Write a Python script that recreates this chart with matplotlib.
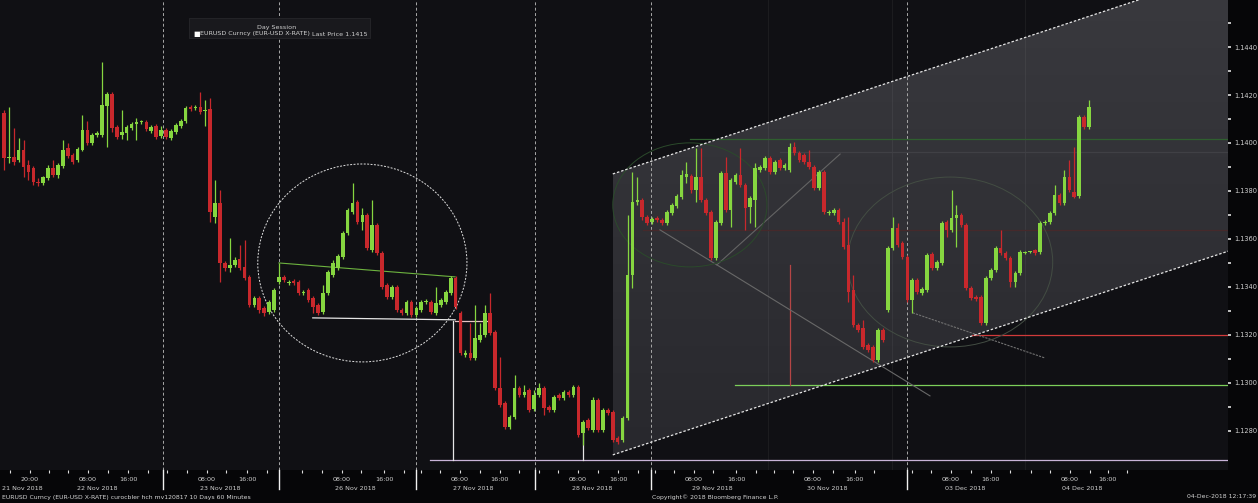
import numpy as np
import matplotlib
matplotlib.use("Agg")
import matplotlib.pyplot as plt
from matplotlib.patches import Ellipse, Polygon, Rectangle
from matplotlib.lines import Line2D
from matplotlib.transforms import blended_transform_factory

# EURUSD 60 minute bars, one value per bar (bar 0 = 21 Nov afternoon)
opens = [
    1.14125, 1.13938, 1.13942, 1.13929, 1.13971, 1.13908, 1.13896, 1.13838, 1.13833, 1.13854,
    1.13896, 1.13867, 1.13904, 1.13979, 1.13950, 1.13929, 1.13971, 1.14054, 1.14000, 1.14033,
    1.14033, 1.14154, 1.14204, 1.14067, 1.14033, 1.14042, 1.14063, 1.14079, 1.14088, 1.14088,
    1.14050, 1.14071, 1.14029, 1.14054, 1.14021, 1.14046, 1.14071, 1.14092, 1.14150, 1.14146,
    1.14150, 1.14133, 1.14142, 1.13692, 1.13750, 1.13500, 1.13479, 1.13492, 1.13517, 1.13483,
    1.13442, 1.13325, 1.13354, 1.13313, 1.13296, 1.13304, 1.13421, 1.13442, 1.13417, 1.13425,
    1.13421, 1.13375, 1.13388, 1.13354, 1.13325, 1.13296, 1.13375, 1.13450, 1.13479, 1.13525,
    1.13625, 1.13713, 1.13754, 1.13671, 1.13700, 1.13554, 1.13658, 1.13542, 1.13408, 1.13358,
    1.13400, 1.13304, 1.13292, 1.13338, 1.13283, 1.13304, 1.13338, 1.13338, 1.13292, 1.13325,
    1.13338, 1.13375, 1.13438, 1.13292, 1.13117, 1.13125, 1.13104, 1.13179, 1.13200, 1.13292,
    1.13213, 1.12979, 1.12917, 1.12817, 1.12858, 1.12979, 1.12950, 1.12971, 1.12892, 1.12950,
    1.12979, 1.12900, 1.12888, 1.12950, 1.12938, 1.12963, 1.12950, 1.12983, 1.12792, 1.12846,
    1.12804, 1.12929, 1.12804, 1.12888, 1.12879, 1.12771, 1.12763, 1.12854, 1.13450, 1.13754,
    1.13763, 1.13692, 1.13671, 1.13688, 1.13679, 1.13667, 1.13708, 1.13738, 1.13775, 1.13858,
    1.13863, 1.13804, 1.13858, 1.13763, 1.13713, 1.13521, 1.13667, 1.13875, 1.13721, 1.13838,
    1.13867, 1.13825, 1.13733, 1.13763, 1.13888, 1.13896, 1.13938, 1.13879, 1.13929, 1.13896,
    1.13888, 1.13983, 1.13958, 1.13950, 1.13921, 1.13900, 1.13813, 1.13879, 1.13708, 1.13708,
    1.13721, 1.13671, 1.13575, 1.13388, 1.13242, 1.13229, 1.13158, 1.13150, 1.13096, 1.13221,
    1.13304, 1.13563, 1.13646, 1.13583, 1.13525, 1.13346, 1.13429, 1.13375, 1.13388, 1.13538,
    1.13479, 1.13500, 1.13671, 1.13638, 1.13688, 1.13700, 1.13658, 1.13396, 1.13358, 1.13358,
    1.13250, 1.13438, 1.13471, 1.13563, 1.13542, 1.13521, 1.13421, 1.13458, 1.13542, 1.13546,
    1.13554, 1.13546, 1.13667, 1.13671, 1.13708, 1.13783, 1.13750, 1.13858, 1.13796, 1.13779,
    1.14108, 1.14067,
]
highs = [
    1.14138, 1.14150, 1.14063, 1.14021, 1.14013, 1.13929, 1.13904, 1.13854, 1.13863, 1.13908,
    1.13929, 1.13917, 1.14013, 1.14000, 1.13958, 1.13983, 1.14117, 1.14092, 1.14042, 1.14050,
    1.14338, 1.14213, 1.14213, 1.14075, 1.14138, 1.14075, 1.14088, 1.14104, 1.14096, 1.14096,
    1.14075, 1.14079, 1.14071, 1.14063, 1.14058, 1.14083, 1.14100, 1.14154, 1.14158, 1.14158,
    1.14213, 1.14179, 1.14188, 1.13846, 1.13804, 1.13508, 1.13604, 1.13525, 1.13575, 1.13596,
    1.13450, 1.13363, 1.13363, 1.13321, 1.13346, 1.13396, 1.13500, 1.13450, 1.13429, 1.13433,
    1.13429, 1.13388, 1.13396, 1.13363, 1.13333, 1.13408, 1.13471, 1.13513, 1.13538, 1.13633,
    1.13729, 1.13833, 1.13763, 1.13729, 1.13708, 1.13763, 1.13667, 1.13550, 1.13417, 1.13408,
    1.13408, 1.13313, 1.13346, 1.13346, 1.13321, 1.13346, 1.13350, 1.13346, 1.13400, 1.13354,
    1.13388, 1.13446, 1.13446, 1.13300, 1.13138, 1.13250, 1.13325, 1.13250, 1.13325, 1.13375,
    1.13221, 1.13108, 1.12925, 1.12867, 1.13033, 1.12988, 1.12992, 1.12979, 1.12971, 1.13000,
    1.12988, 1.12908, 1.12950, 1.12958, 1.12971, 1.12971, 1.12992, 1.12992, 1.12846, 1.12854,
    1.12942, 1.12938, 1.12896, 1.12896, 1.12888, 1.12779, 1.12863, 1.13700, 1.13879, 1.13858,
    1.13771, 1.13700, 1.13692, 1.13696, 1.13688, 1.13721, 1.13750, 1.13788, 1.13888, 1.13921,
    1.13871, 1.13979, 1.13979, 1.13771, 1.13721, 1.13679, 1.13883, 1.13942, 1.13854, 1.13875,
    1.13979, 1.13833, 1.13779, 1.13917, 1.13908, 1.13946, 1.13946, 1.13929, 1.13938, 1.13917,
    1.14000, 1.14004, 1.13967, 1.13958, 1.13971, 1.13908, 1.13888, 1.13888, 1.13721, 1.13729,
    1.13729, 1.13688, 1.13692, 1.13450, 1.13250, 1.13263, 1.13167, 1.13158, 1.13229, 1.13229,
    1.13571, 1.13692, 1.13667, 1.13592, 1.13533, 1.13438, 1.13438, 1.13400, 1.13542, 1.13546,
    1.13513, 1.13675, 1.13679, 1.13804, 1.13742, 1.13708, 1.13667, 1.13404, 1.13367, 1.13367,
    1.13446, 1.13479, 1.13571, 1.13638, 1.13550, 1.13529, 1.13467, 1.13554, 1.13550, 1.13550,
    1.13558, 1.13675, 1.13679, 1.13717, 1.13825, 1.13792, 1.13888, 1.13929, 1.13983, 1.14117,
    1.14117, 1.14179,
]
lows = [
    1.13888, 1.13917, 1.13908, 1.13921, 1.13858, 1.13846, 1.13825, 1.13821, 1.13825, 1.13846,
    1.13858, 1.13854, 1.13896, 1.13938, 1.13913, 1.13921, 1.13967, 1.13992, 1.13992, 1.14025,
    1.14025, 1.13983, 1.14046, 1.14017, 1.14017, 1.14013, 1.14054, 1.14013, 1.14079, 1.14050,
    1.14042, 1.14017, 1.14021, 1.14017, 1.14013, 1.14038, 1.14063, 1.14083, 1.14133, 1.14138,
    1.14121, 1.14071, 1.13671, 1.13667, 1.13421, 1.13467, 1.13463, 1.13483, 1.13471, 1.13429,
    1.13317, 1.13317, 1.13292, 1.13279, 1.13288, 1.13296, 1.13413, 1.13421, 1.13408, 1.13408,
    1.13367, 1.13367, 1.13338, 1.13292, 1.13283, 1.13288, 1.13367, 1.13442, 1.13471, 1.13517,
    1.13617, 1.13704, 1.13663, 1.13638, 1.13554, 1.13546, 1.13533, 1.13392, 1.13350, 1.13350,
    1.13296, 1.13283, 1.13283, 1.13275, 1.13275, 1.13296, 1.13329, 1.13288, 1.13283, 1.13317,
    1.13329, 1.13367, 1.13308, 1.13117, 1.13108, 1.13096, 1.13096, 1.13171, 1.13192, 1.13200,
    1.12971, 1.12900, 1.12808, 1.12808, 1.12850, 1.12942, 1.12942, 1.12879, 1.12883, 1.12942,
    1.12867, 1.12879, 1.12879, 1.12929, 1.12929, 1.12942, 1.12942, 1.12775, 1.12742, 1.12804,
    1.12796, 1.12796, 1.12796, 1.12867, 1.12754, 1.12746, 1.12754, 1.12846, 1.13396, 1.13742,
    1.13679, 1.13658, 1.13663, 1.13671, 1.13658, 1.13658, 1.13700, 1.13729, 1.13767, 1.13833,
    1.13792, 1.13754, 1.13754, 1.13700, 1.13513, 1.13513, 1.13658, 1.13713, 1.13650, 1.13829,
    1.13817, 1.13638, 1.13667, 1.13650, 1.13879, 1.13888, 1.13871, 1.13871, 1.13888, 1.13888,
    1.13879, 1.13950, 1.13921, 1.13913, 1.13892, 1.13804, 1.13804, 1.13704, 1.13700, 1.13700,
    1.13663, 1.13558, 1.13338, 1.13233, 1.13213, 1.13142, 1.13129, 1.13088, 1.13088, 1.13171,
    1.13296, 1.13554, 1.13567, 1.13517, 1.13338, 1.13292, 1.13371, 1.13367, 1.13379, 1.13471,
    1.13471, 1.13492, 1.13608, 1.13629, 1.13567, 1.13650, 1.13388, 1.13346, 1.13342, 1.13242,
    1.13242, 1.13429, 1.13463, 1.13533, 1.13513, 1.13400, 1.13400, 1.13450, 1.13538, 1.13542,
    1.13533, 1.13538, 1.13658, 1.13663, 1.13700, 1.13742, 1.13742, 1.13796, 1.13771, 1.13771,
    1.14058, 1.14058,
]
closes = [
    1.13938, 1.13942, 1.13921, 1.13971, 1.13900, 1.13879, 1.13838, 1.13833, 1.13858, 1.13896,
    1.13867, 1.13908, 1.13971, 1.13946, 1.13921, 1.13975, 1.14054, 1.14000, 1.14033, 1.14042,
    1.14158, 1.14204, 1.14063, 1.14025, 1.14046, 1.14067, 1.14079, 1.14088, 1.14092, 1.14058,
    1.14067, 1.14025, 1.14054, 1.14025, 1.14050, 1.14075, 1.14092, 1.14146, 1.14142, 1.14150,
    1.14129, 1.14138, 1.13713, 1.13750, 1.13500, 1.13479, 1.13492, 1.13513, 1.13479, 1.13438,
    1.13325, 1.13354, 1.13304, 1.13292, 1.13338, 1.13388, 1.13442, 1.13429, 1.13421, 1.13417,
    1.13375, 1.13379, 1.13346, 1.13317, 1.13292, 1.13375, 1.13463, 1.13500, 1.13529, 1.13625,
    1.13721, 1.13750, 1.13671, 1.13700, 1.13563, 1.13658, 1.13542, 1.13400, 1.13358, 1.13400,
    1.13304, 1.13292, 1.13338, 1.13283, 1.13313, 1.13338, 1.13342, 1.13296, 1.13333, 1.13346,
    1.13379, 1.13438, 1.13317, 1.13125, 1.13125, 1.13104, 1.13188, 1.13200, 1.13292, 1.13208,
    1.12979, 1.12908, 1.12817, 1.12858, 1.12979, 1.12950, 1.12963, 1.12888, 1.12950, 1.12979,
    1.12896, 1.12888, 1.12942, 1.12938, 1.12963, 1.12950, 1.12983, 1.12783, 1.12838, 1.12813,
    1.12929, 1.12804, 1.12888, 1.12875, 1.12763, 1.12754, 1.12854, 1.13450, 1.13754, 1.13763,
    1.13692, 1.13667, 1.13683, 1.13679, 1.13667, 1.13713, 1.13742, 1.13779, 1.13867, 1.13871,
    1.13804, 1.13858, 1.13763, 1.13708, 1.13521, 1.13671, 1.13875, 1.13721, 1.13846, 1.13867,
    1.13825, 1.13729, 1.13771, 1.13896, 1.13900, 1.13938, 1.13879, 1.13921, 1.13896, 1.13908,
    1.13983, 1.13958, 1.13929, 1.13921, 1.13900, 1.13813, 1.13879, 1.13713, 1.13713, 1.13721,
    1.13671, 1.13567, 1.13379, 1.13242, 1.13221, 1.13150, 1.13138, 1.13096, 1.13221, 1.13179,
    1.13563, 1.13646, 1.13575, 1.13525, 1.13346, 1.13429, 1.13379, 1.13392, 1.13533, 1.13479,
    1.13504, 1.13667, 1.13638, 1.13688, 1.13700, 1.13658, 1.13396, 1.13354, 1.13350, 1.13250,
    1.13438, 1.13471, 1.13563, 1.13542, 1.13521, 1.13421, 1.13458, 1.13546, 1.13546, 1.13546,
    1.13542, 1.13667, 1.13671, 1.13708, 1.13783, 1.13750, 1.13858, 1.13804, 1.13775, 1.14108,
    1.14067, 1.14150,
]

# time axis (bar positions)
hour_pos = [5.3, 17.1, 25.3, 41.3, 49.5, 68.8, 77.4, 92.9, 101.0, 116.9, 125.1,
            140.5, 149.1, 164.8, 173.3, 192.9, 201.0, 217.1, 224.8]
hour_lab = ["20:00"] + ["08:00", "16:00"] * 9
date_pos = [3.7, 19.1, 44.0, 71.5, 95.5, 119.8, 144.2, 167.6, 195.7, 219.6]
date_lab = ["21 Nov 2018", "22 Nov 2018", "23 Nov 2018", "26 Nov 2018", "27 Nov 2018",
            "28 Nov 2018", "29 Nov 2018", "30 Nov 2018", "03 Dec 2018", "04 Dec 2018"]
session_breaks = [32.4, 56.0, 83.9, 108.1, 131.8, 183.9]
faint_breaks = [155.6, 180.9, 208.0]

# drawn studies
chan_x = [124.0, 252.0]
chan_upper = [1.13871, 1.14738]
chan_lower = [1.12700, 1.13567]
circle_hs = (73.0, 1.13500, 42.6, 0.00825)
ell_left = (139.7, 1.13742, 31.4, 0.00517)
ell_right = (192.7, 1.13504, 41.8, 0.00708)
neck_x, neck_y = [56.0, 91.9], [1.13500, 1.13442]
supp_x, supp_y = [62.9, 91.9], [1.13271, 1.13263]
supp2_x, supp2_y = [91.9, 99.0], [1.13258, 1.13258]
drop1_x, drop1_y = [91.4, 91.4], [1.13258, 1.12679]
drop2_x, drop2_y = [117.9, 117.9], [1.12792, 1.12679]
hlines = [  # level, start bar, colour
    (1.12679, 86.8, "#c9b3d9"),
    (1.12992, 148.9, "#7ccf5a"),
    (1.13200, 197.1, "#d03a3a"),
    (1.14017, 139.7, "#2f5f2f"),
    (1.13638, 130.2, "#46292b"),
    (1.13963, 158.0, "#404045"),
]
red_vx, red_vy = [160.1, 160.1], [1.13492, 1.12992]
diag1_x, diag1_y = [133.6, 188.6], [1.13638, 1.12946]
diag2_x, diag2_y = [145.2, 170.3], [1.13492, 1.13954]
diag3_x, diag3_y = [185.1, 212.0], [1.13292, 1.13104]

W, H = 1258, 503
fig = plt.figure(figsize=(W / 100, H / 100), dpi=100, facecolor="#060608")
ax = fig.add_axes([0, 1 - 470 / H, 1228 / W, 470 / H])
ax.set_facecolor("#101014")
ax.set_xlim(-0.8, 249.3)
ax.set_ylim(1.12637, 1.14596)
for s in ax.spines.values():
    s.set_visible(False)

# channel with soft gradient
poly = Polygon([[chan_x[0], chan_lower[0]], [chan_x[0], chan_upper[0]],
                [chan_x[1], chan_upper[1]], [chan_x[1], chan_lower[1]]],
               closed=True, facecolor="none", edgecolor="none")
ax.add_patch(poly)
grad = np.linspace(0, 1, 256).reshape(-1, 1)
cmap = matplotlib.colors.LinearSegmentedColormap.from_list("g", ["#28282d", "#3a3a3f"])
im = ax.imshow(grad, extent=[chan_x[0], chan_x[1], chan_lower[0], chan_upper[1]],
               origin="lower", aspect="auto", cmap=cmap, zorder=1)
im.set_clip_path(poly)
ax.plot(chan_x, chan_upper, color="#e6e6e6", lw=0.9, ls=(0, (2, 1.5)), zorder=3)
ax.plot(chan_x, chan_lower, color="#e6e6e6", lw=0.9, ls=(0, (2, 1.5)), zorder=3)

for b in session_breaks:
    ax.axvline(b, color="#a8a8a8", lw=0.7, ls=(0, (3, 2.5)), zorder=2)
for b in faint_breaks:
    ax.axvline(b, color="#ffffff", alpha=0.05, lw=0.8, zorder=1.5)

# horizontal studies
for lvl, x0, col in hlines:
    ax.plot([x0, chan_x[1]], [lvl, lvl], color=col, lw=0.9, zorder=2.5)
ax.plot(red_vx, red_vy, color="#b54545", lw=0.9, zorder=2.5)
ax.plot(diag1_x, diag1_y, color="#686868", lw=0.8, zorder=2.5)
ax.plot(diag2_x, diag2_y, color="#646464", lw=0.8, zorder=2.5)
ax.plot(diag3_x, diag3_y, color="#727272", lw=0.8, ls=(0, (2, 1)), zorder=2.5)
ax.plot(neck_x, neck_y, color="#6db33f", lw=0.8, zorder=2.5)
ax.plot(supp_x, supp_y, color="#e6e6e6", lw=0.9, zorder=2.5)
ax.plot(supp2_x, supp2_y, color="#e8c4c4", lw=0.9, zorder=2.5)
ax.plot(drop1_x, drop1_y, color="#e6e6e6", lw=0.9, zorder=2.5)
ax.plot(drop2_x, drop2_y, color="#e6e6e6", lw=0.9, zorder=2.5)

for (cx, cy, w, h), col, ls in [(circle_hs, "#e0e0e0", (0, (2, 1.5))),
                                (ell_left, "#2b4a2b", "-"),
                                (ell_right, "#434d43", "-")]:
    ax.add_patch(Ellipse((cx, cy), w, h, fill=False, edgecolor=col, lw=0.7, ls=ls, zorder=2.6))

# candles
o = np.array(opens); hi = np.array(highs); lo = np.array(lows); c = np.array(closes)
idx = np.arange(len(o))
up = c >= o
cols = np.where(up, "#86d640", "#c8282c")
ax.vlines(idx, lo, hi, colors=cols, lw=0.9, zorder=4)
body = np.maximum(np.abs(c - o), 0.00005)
ax.bar(idx, body, bottom=np.minimum(o, c), width=0.74, color=cols, lw=0, zorder=5)

# price axis on the right
ax.yaxis.tick_right()
ax.set_yticks(np.arange(1.1280, 1.14405, 0.0020))
ax.set_yticks(np.arange(1.1290, 1.1450, 0.0020), minor=True)
ax.yaxis.set_major_formatter(matplotlib.ticker.FormatStrFormatter("%.4f"))
ax.tick_params(axis="y", which="both", colors="#e0e0e0", labelcolor="#cfcfcf",
               labelsize=4.8, length=2.5, width=1.2, pad=2)

# time axis
minor_pos = [hour_pos[0] - 4]
for p in hour_pos[1::2]:
    minor_pos += [p - 8, p - 4, p + 4]
for p in hour_pos[2::2]:
    minor_pos += [p + 4]
ax.set_xticks(hour_pos)
ax.set_xticklabels(hour_lab)
ax.set_xticks(minor_pos, minor=True)
ax.tick_params(axis="x", which="both", colors="#dcdcdc", labelcolor="#cfcfcf",
               labelsize=4.6, length=2.5, width=0.8, pad=2.5)

tr = blended_transform_factory(ax.transData, fig.transFigure)
for p, lab in zip(date_pos, date_lab):
    fig.text(p, 1 - 488 / H, lab, transform=tr, ha="center", va="center",
             fontsize=4.6, color="#cfcfcf")
for b in session_breaks:
    fig.add_artist(Line2D([b, b], [1 - 470 / H, 1 - 489 / H], transform=tr,
                          color="#f0f0f0", lw=1.0))

# legend box
ax.add_patch(Rectangle((189 / 1228, 1 - 38 / 470), 181 / 1228, 20 / 470,
                       transform=ax.transAxes, facecolor="#19191d",
                       edgecolor="#26262b", lw=0.6, zorder=6))
ax.text(277 / 1228, 1 - 27 / 470, "Day Session", transform=ax.transAxes,
        ha="center", va="center", fontsize=4.6, color="#cfcfcf", zorder=7)
ax.text(193 / 1228, 1 - 34 / 470, "\u25a0", transform=ax.transAxes,
        ha="left", va="center", fontsize=5, color="#ffffff", zorder=7)
ax.text(200 / 1228, 1 - 34 / 470, "EURUSD Curncy (EUR-USD X-RATE)", transform=ax.transAxes,
        ha="left", va="center", fontsize=4.6, color="#cfcfcf", zorder=7)
ax.text(368 / 1228, 1 - 34 / 470, "Last Price 1.1415", transform=ax.transAxes,
        ha="right", va="center", fontsize=4.6, color="#cfcfcf", zorder=7)

# footer
fig.text(2 / W, 1 - 497 / H, "EURUSD Curncy (EUR-USD X-RATE) curocbler hch mv120817 10 Days 60 Minutes",
         ha="left", va="center", fontsize=4.4, color="#d4d4d4")
fig.text(652 / W, 1 - 497 / H, "Copyright\u00a9 2018 Bloomberg Finance L.P.",
         ha="left", va="center", fontsize=4.4, color="#d4d4d4")
fig.text(1256 / W, 1 - 497 / H, "04-Dec-2018 12:17:39",
         ha="right", va="center", fontsize=4.4, color="#d4d4d4")

fig.savefig("out.png", dpi=100, facecolor=fig.get_facecolor())
